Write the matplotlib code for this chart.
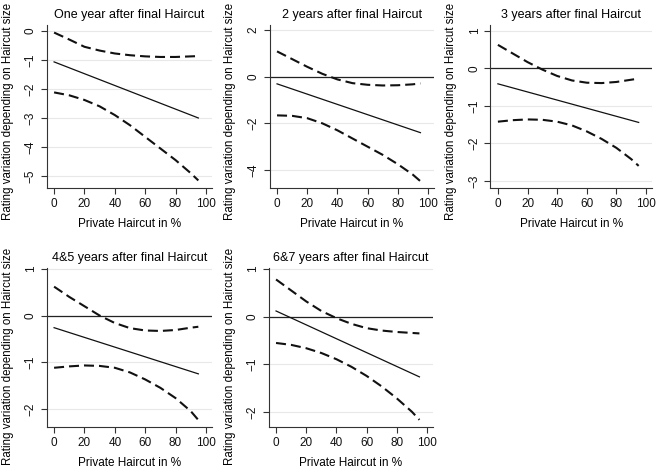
import matplotlib
matplotlib.use("Agg")
import matplotlib.pyplot as plt
import numpy as np

plt.rcParams['font.family'] = ['Liberation Sans', 'DejaVu Sans']

# haircut share grid (%)
x_pts = [0, 10, 20, 30, 40, 50, 60, 70, 80, 90, 95]
x_ends = [0, 95]

titles = ["One year after final Haircut", "2 years after final Haircut",
          "3 years after final Haircut", "4&5 years after final Haircut",
          "6&7 years after final Haircut"]

# marginal effect (straight line) and 95% bounds per horizon
eff_1 = [-1.07, -3.0]
hi_1 = [-0.06, -0.3, -0.55, -0.68, -0.78, -0.84, -0.88, -0.9, -0.9, -0.88, -0.87]
lo_1 = [-2.12, -2.22, -2.38, -2.6, -2.9, -3.25, -3.65, -4.05, -4.45, -4.9, -5.15]

eff_2 = [-0.31, -2.4]
hi_2 = [1.08, 0.75, 0.42, 0.12, -0.12, -0.28, -0.35, -0.38, -0.37, -0.33, -0.29]
lo_2 = [-1.66, -1.68, -1.78, -2.0, -2.3, -2.65, -3.0, -3.35, -3.75, -4.2, -4.48]

eff_3 = [-0.41, -1.44]
hi_3 = [0.63, 0.4, 0.17, -0.03, -0.2, -0.32, -0.38, -0.39, -0.36, -0.3, -0.27]
lo_3 = [-1.42, -1.38, -1.36, -1.37, -1.42, -1.52, -1.68, -1.88, -2.12, -2.42, -2.6]

eff_4 = [-0.26, -1.25]
hi_4 = [0.62, 0.4, 0.2, 0.0, -0.16, -0.27, -0.32, -0.33, -0.31, -0.26, -0.24]
lo_4 = [-1.12, -1.09, -1.07, -1.08, -1.12, -1.22, -1.37, -1.55, -1.77, -2.05, -2.24]

eff_5 = [0.12, -1.26]
hi_5 = [0.78, 0.55, 0.32, 0.12, -0.03, -0.15, -0.24, -0.29, -0.32, -0.34, -0.35]
lo_5 = [-0.55, -0.59, -0.66, -0.76, -0.89, -1.05, -1.24, -1.46, -1.71, -1.99, -2.16]

yticks = [[0, -1, -2, -3, -4, -5], [2, 0, -2, -4], [1, 0, -1, -2, -3],
          [1, 0, -1, -2], [1, 0, -1, -2]]
ylims = [(-5.41, 0.2), (-4.77, 2.21), (-3.19, 1.16), (-2.39, 1.02), (-2.31, 1.02)]
zero_line = [False, True, True, True, True]

effs = [eff_1, eff_2, eff_3, eff_4, eff_5]
his = [hi_1, hi_2, hi_3, hi_4, hi_5]
los = [lo_1, lo_2, lo_3, lo_4, lo_5]

W, H = 659, 471
fig = plt.figure(figsize=(W / 100, H / 100), dpi=100)

# axes boxes in pixels: left, right, top, bottom
boxes = [(46.5, 212, 25, 188), (269.5, 434, 25, 188), (490.5, 652, 25, 188),
         (46.5, 212, 268, 427), (268.5, 433, 268, 427)]
# vertical centre of the y label, pixels from the top
ylab_mid = [111, 111, 111, 356, 356]

for i in range(5):
    l, r, t, b = boxes[i]
    ax = fig.add_axes([l / W, 1 - b / H, (r - l) / W, (b - t) / H])
    ax.set_xlim(-5, 104)
    ax.set_ylim(*ylims[i])
    ax.set_yticks(yticks[i])
    ax.set_xticks([0, 20, 40, 60, 80, 100])
    for yv in yticks[i]:
        ax.axhline(yv, color='#e8e8e8', lw=0.8, zorder=0)
    if zero_line[i]:
        ax.axhline(0, color='#222222', lw=0.9, zorder=1)
    ax.plot(x_ends, effs[i], color='#111111', lw=0.9, zorder=3)
    ax.plot(x_pts, his[i], color='#111111', lw=1.5, dashes=(4.8, 2.4), zorder=3)
    ax.plot(x_pts, los[i], color='#111111', lw=1.5, dashes=(4.8, 2.4), zorder=3)
    for s in ['top', 'right']:
        ax.spines[s].set_visible(False)
    for s in ['left', 'bottom']:
        ax.spines[s].set_color('#333333')
        ax.spines[s].set_linewidth(0.8)
    ax.tick_params(length=4, width=0.8, color='#333333', labelsize=8.5,
                   labelcolor='#111111', pad=3)
    for lab in ax.get_yticklabels():
        lab.set_rotation(90)
        lab.set_va('center')
    ax.set_title(titles[i], fontsize=9, pad=5)
    ax.set_xlabel("Private Haircut in %", fontsize=8.5, labelpad=6)
    ax.set_ylabel("Rating variation depending on Haircut size", fontsize=8.3)
    ymid = 1 - (ylab_mid[i] - t) / (b - t)
    ax.yaxis.set_label_coords(-33 / (r - l), ymid)

fig.savefig("out.png", dpi=100, facecolor='white')
